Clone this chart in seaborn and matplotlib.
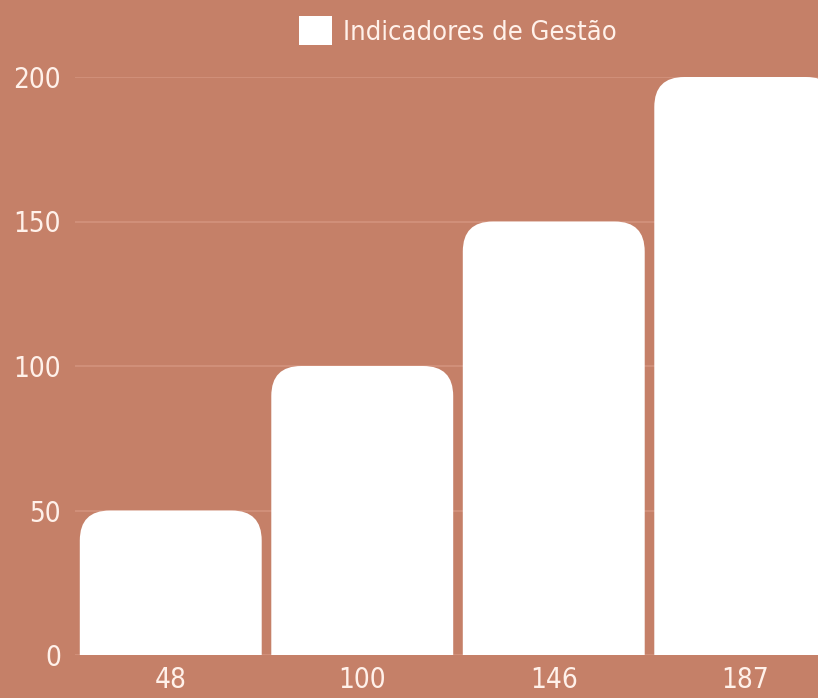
import matplotlib
matplotlib.use("Agg")
import matplotlib.pyplot as plt
import matplotlib.patches as mpatches
import pandas as pd
import seaborn as sns

# data
categories = ["48", "100", "146", "187"]
values = [50, 100, 150, 200]
series_label = "Indicadores de Gestão"
y_ticks = [0, 50, 100, 150, 200]

BG = "#C58068"
GRID = "#D3937D"
TEXT = "#FFF1EA"

sns.set_theme(style="white")
plt.rcParams["font.family"] = ["DejaVu Sans Condensed", "DejaVu Sans"]
plt.rcParams["font.stretch"] = "condensed"

df = pd.DataFrame({"category": categories, "value": values})

fig = plt.figure(figsize=(8.18, 6.98), dpi=100, facecolor=BG)
# axes runs a little past the right edge, as in the reference crop
ax = fig.add_axes([75 / 818, 43 / 698, 766 / 818, 578 / 698])
ax.set_facecolor(BG)

sns.barplot(data=df, x="category", y="value", color="white", width=0.95,
            saturation=1, ax=ax, zorder=3)

ax.set_ylim(0, 200)
ax.set_xlim(-0.5, 3.5)
ax.set_yticks(y_ticks)
ax.yaxis.grid(True, color=GRID, linewidth=1.2, zorder=0)
ax.set_axisbelow(True)
for s in ax.spines.values():
    s.set_visible(False)
ax.set_xlabel("")
ax.set_ylabel("")
ax.tick_params(axis="both", length=0, labelsize=20, colors=TEXT)
ax.tick_params(axis="y", pad=10)
ax.tick_params(axis="x", pad=8)

# swap the square bars for ones with rounded tops
fig.canvas.draw()
x0, y0 = ax.transData.transform((0, 0))
x1, y1 = ax.transData.transform((1, 1))
px_x = x1 - x0
px_y = y1 - y0
radius_px = 30
rx = radius_px / px_x
aspect = px_x / px_y
ry = rx * aspect
for p in list(ax.patches):
    bx, by = p.get_x(), p.get_y()
    bw, bh = p.get_width(), p.get_height()
    p.remove()
    box = mpatches.FancyBboxPatch(
        (bx, by - ry), bw, bh + ry,
        boxstyle=f"round,pad=0,rounding_size={rx}",
        mutation_aspect=aspect,
        facecolor="white", edgecolor="none", zorder=3,
    )
    ax.add_patch(box)

handle = mpatches.Patch(facecolor="white", edgecolor="none", label=series_label)
leg = ax.legend(handles=[handle], loc="center", bbox_to_anchor=(0.5, 1.08),
                frameon=False, fontsize=19.5, handlelength=1.2, handleheight=1.3,
                handletextpad=0.4)
for t in leg.get_texts():
    t.set_color(TEXT)

fig.savefig("out.png", dpi=100, facecolor=BG)
